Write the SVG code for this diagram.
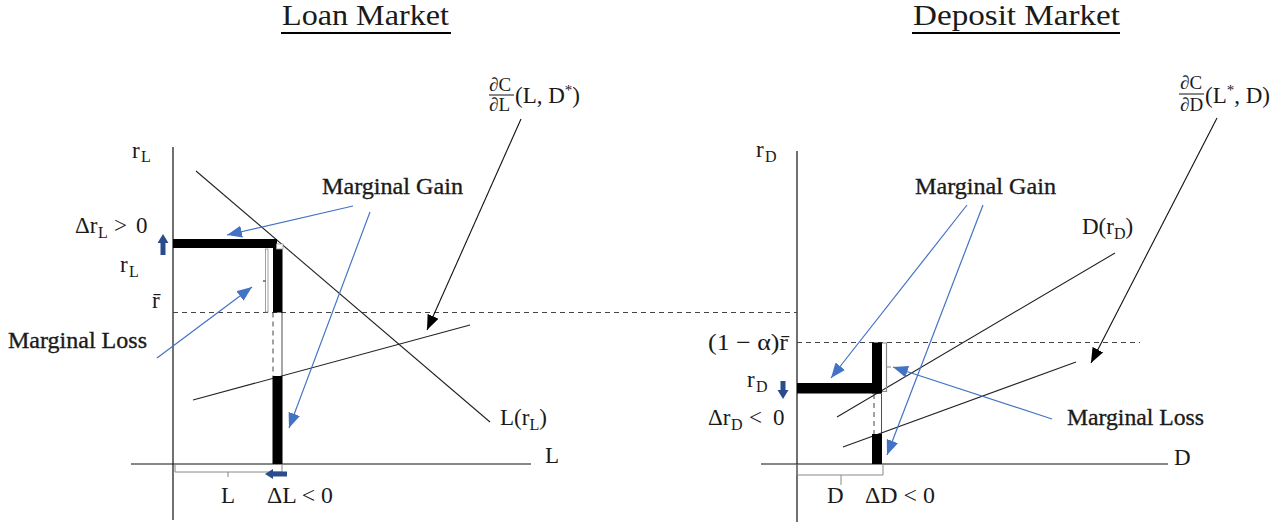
<svg xmlns="http://www.w3.org/2000/svg" width="1282" height="527" viewBox="0 0 1282 527">
<defs>
<style>
text{font-family:"Liberation Serif","DejaVu Serif",serif;fill:#1a1a1a;font-size:23px}
.title{font-size:29px}
.lbl{font-size:24px;stroke:#1a1a1a;stroke-width:0.35}
.sub{font-size:16px}
.frac{font-size:19px}
.axis{stroke:#111;stroke-width:1.2;fill:none}
.curve{stroke:#222;stroke-width:1.1;fill:none}
.dash{stroke:#444;stroke-width:1;stroke-dasharray:5,4;fill:none}
.blue{stroke:#4472C4;stroke-width:1.2;fill:none;marker-end:url(#bh)}
.blk{stroke:#111;stroke-width:1.1;fill:none;marker-end:url(#kh)}
.bar{fill:#000}
.gray{stroke:#888;stroke-width:1;fill:none}
.dblue{fill:#2B4C8C}
</style>
<marker id="bh" markerUnits="userSpaceOnUse" markerWidth="16" markerHeight="12" refX="15" refY="6" orient="auto"><path d="M0,0 L15,6 L0,12 z" fill="#4472C4"/></marker>
<marker id="kh" markerUnits="userSpaceOnUse" markerWidth="16" markerHeight="12" refX="15" refY="6" orient="auto"><path d="M0,0 L15,6 L0,12 z" fill="#000"/></marker>
</defs>

<g id="titles">
<text class="title" x="282" y="25" textLength="167" lengthAdjust="spacingAndGlyphs">Loan Market</text>
<line x1="281" y1="33" x2="451" y2="33" stroke="#000" stroke-width="2"/>
<text class="title" x="913" y="25" textLength="207" lengthAdjust="spacingAndGlyphs">Deposit Market</text>
<line x1="912" y1="33" x2="1120" y2="33" stroke="#000" stroke-width="2"/>
</g>

<g id="loan-axes">
<line class="axis" x1="173" y1="147" x2="173" y2="520"/>
<line class="axis" x1="131" y1="464" x2="531" y2="464"/>
<text x="132" y="158">r<tspan class="sub" x="141" y="162">L</tspan></text>
<text x="545" y="463">L</text>
</g>

<g id="deposit-axes">
<line class="axis" x1="797" y1="151" x2="797" y2="522"/>
<line class="axis" x1="761" y1="464" x2="1168" y2="464"/>
<text x="756" y="157">r<tspan class="sub" x="765" y="162">D</tspan></text>
<text x="1174" y="465">D</text>
</g>

<g id="connectors">
<line class="curve" x1="196" y1="171" x2="490" y2="422"/>
<line class="curve" x1="193" y1="400" x2="470" y2="325"/>
<line class="dash" x1="173" y1="312.5" x2="797" y2="312.5"/>
<line class="dash" x1="273" y1="312.5" x2="273" y2="376"/>
<line x1="282" y1="312.5" x2="282" y2="376" stroke="#222" stroke-width="0.8"/>
<line class="curve" x1="837" y1="417" x2="1115" y2="253"/>
<line class="curve" x1="843" y1="447" x2="1076" y2="362"/>
<line class="dash" x1="797" y1="342.5" x2="1140" y2="342.5"/>
<line class="dash" x1="874" y1="394" x2="874" y2="434"/>
<line x1="881.5" y1="394" x2="881.5" y2="434" stroke="#222" stroke-width="0.8"/>
<line class="blue" x1="353" y1="206" x2="227" y2="235"/>
<line class="blue" x1="370" y1="212" x2="289" y2="428"/>
<line class="blue" x1="157" y1="358" x2="252" y2="287"/>
<line class="blk" x1="521" y1="119" x2="427" y2="330"/>
<line class="blue" x1="967" y1="205" x2="831" y2="378"/>
<line class="blue" x1="983" y1="205" x2="887" y2="455"/>
<line class="blue" x1="1052" y1="419" x2="893" y2="367"/>
<line class="blk" x1="1217" y1="118" x2="1091" y2="363"/>
</g>

<g id="loan-bars">
<rect class="bar" x="173" y="239" width="104" height="9"/>
<rect class="bar" x="273" y="246" width="9.5" height="66.5"/>
<rect x="276.5" y="244" width="6.5" height="5" fill="#fff" stroke="#999" stroke-width="0.8"/>
<rect class="bar" x="272.5" y="376" width="10" height="88"/>
<rect x="265.5" y="249" width="2.5" height="63" fill="#fff" stroke="#888" stroke-width="0.8"/>
<line x1="263" y1="281" x2="265.5" y2="281" stroke="#111" stroke-width="1"/>
<path class="gray" d="M175,464 V472 H282 V464 M228,472 V477" stroke="#777" stroke-width="1.3"/>
<polygon class="dblue" points="163,234 168.5,243 165.5,243 165.5,255 160.5,255 160.5,243 157.5,243"/>
<polygon class="dblue" points="265,474 273,469 273,471.5 287,471.5 287,476.5 273,476.5 273,479"/>
</g>

<g id="deposit-bars">
<rect class="bar" x="797" y="383" width="84" height="10.5"/>
<rect class="bar" x="872" y="342.5" width="10" height="51"/>
<rect class="bar" x="872" y="434" width="10" height="30"/>
<path d="M882,343 H886.5 V391.5 H882 M886.5,367 H891" fill="none" stroke="#888" stroke-width="1.2"/>
<path class="gray" d="M797,464 V475 H883 V464 M841,475 V485" stroke="#777" stroke-width="1.3"/>
<polygon class="dblue" points="783,399 788.5,390 785.5,390 785.5,381 780.5,381 780.5,390 777.5,390"/>
</g>

<g id="loan-labels">
<text x="75" y="233">Δr</text><text class="sub" x="98" y="238">L</text>
<text x="114" y="233">&gt;</text><text x="136" y="233">0</text>
<text x="120" y="272">r</text><text class="sub" x="129" y="277">L</text>
<text x="152" y="308">r̄</text>
<text class="lbl" x="8" y="348" textLength="139" lengthAdjust="spacingAndGlyphs">Marginal Loss</text>
<text class="lbl" x="322" y="194" textLength="141" lengthAdjust="spacingAndGlyphs">Marginal Gain</text>
<text x="221" y="503">L</text>
<text x="267" y="503" textLength="66" lengthAdjust="spacingAndGlyphs">ΔL &lt; 0</text>
<text x="500" y="425">L(r<tspan class="sub" dy="5">L</tspan><tspan dy="-5">)</tspan></text>
<text class="frac" x="489" y="91">∂C</text>
<line x1="489" y1="95" x2="514" y2="95" stroke="#111" stroke-width="1"/>
<text class="frac" x="489" y="111">∂L</text>
<text x="515" y="103">(L, D<tspan font-size="15" dy="-8">*</tspan><tspan dy="8">)</tspan></text>
</g>

<g id="deposit-labels">
<text class="lbl" x="915" y="194" textLength="141" lengthAdjust="spacingAndGlyphs">Marginal Gain</text>
<text x="1082" y="234">D(r<tspan class="sub" dy="5">D</tspan><tspan dy="-5">)</tspan></text>
<text x="708" y="350" textLength="80" lengthAdjust="spacingAndGlyphs">(1 − α)r̄</text>
<text x="747" y="387">r</text><text class="sub" x="756" y="392">D</text>
<text x="708" y="425">Δr</text><text class="sub" x="731" y="430">D</text>
<text x="749" y="425">&lt;</text><text x="773" y="425">0</text>
<text class="lbl" x="1067" y="425" textLength="137" lengthAdjust="spacingAndGlyphs">Marginal Loss</text>
<text x="827" y="503">D</text>
<text x="865" y="503" textLength="70" lengthAdjust="spacingAndGlyphs">ΔD &lt; 0</text>
<text class="frac" x="1180" y="89">∂C</text>
<line x1="1179" y1="94" x2="1204" y2="94" stroke="#111" stroke-width="1"/>
<text class="frac" x="1180" y="111">∂D</text>
<text x="1205" y="103">(L<tspan font-size="15" dy="-8">*</tspan><tspan dy="8">, D)</tspan></text>
</g>
</svg>
